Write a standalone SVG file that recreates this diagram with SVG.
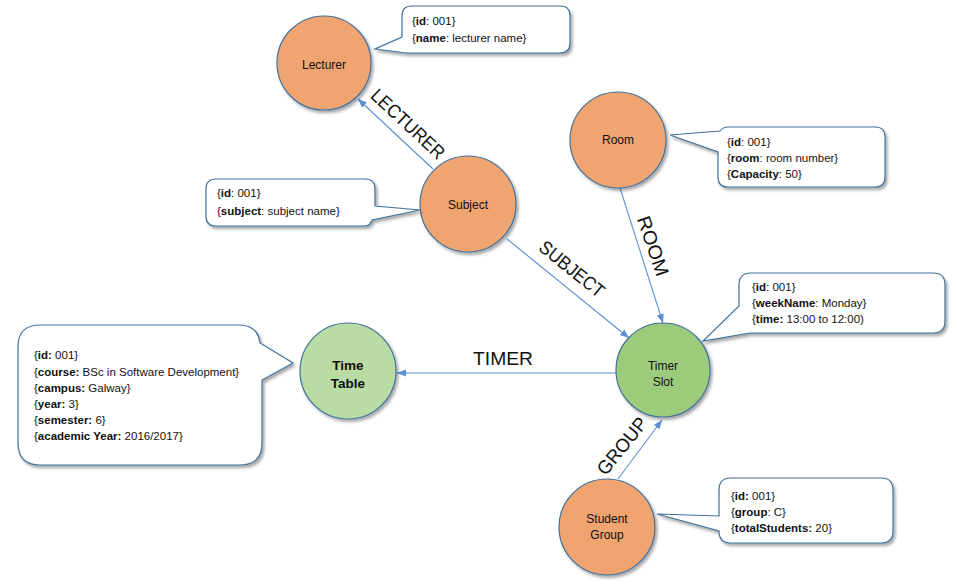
<svg xmlns="http://www.w3.org/2000/svg" width="957" height="584" viewBox="0 0 957 584">
<style>
.bg{fill:#ffffff}
.node{stroke:#41719C;stroke-width:1.2;filter:url(#sh)}
.or{fill:#F0A470}
.gr{fill:#9DCB7C}
.lg{fill:#B8DCA3}
.call{fill:#ffffff;stroke:#41719C;stroke-width:1.2;filter:url(#sh)}
.lbl{font-family:"Liberation Sans",Arial,sans-serif;font-size:12px;fill:#111;text-anchor:middle}
.lblb{font-family:"Liberation Sans",Arial,sans-serif;font-size:13.5px;font-weight:bold;fill:#111;text-anchor:middle}
.ct{font-family:"Liberation Sans",Arial,sans-serif;font-size:11.5px;fill:#111}
.b{font-weight:bold}
.edge{stroke:#5B8FD4;stroke-width:1.1;fill:none;marker-end:url(#arr)}
.el{font-family:"Liberation Sans",Arial,sans-serif;font-size:19px;fill:#111;text-anchor:middle;dominant-baseline:central}
</style>
<defs>
<filter id="sh" x="-20%" y="-20%" width="140%" height="140%">
<feDropShadow dx="2" dy="2.5" stdDeviation="1.5" flood-color="#000" flood-opacity="0.35"/>
</filter>
<marker id="arr" markerWidth="10" markerHeight="10" refX="9" refY="5" orient="auto" markerUnits="userSpaceOnUse">
<path d="M0,1.5 L9,5 L0,8.5 Z" fill="#5B8FD4"/>
</marker>
</defs>
<rect class="bg" x="0" y="0" width="957" height="584"/>

<g id="connectors">
<line class="edge" x1="433" y1="169" x2="358" y2="99"/>
<line class="edge" x1="507" y1="239" x2="629" y2="338"/>
<line class="edge" x1="620" y1="188" x2="663" y2="323"/>
<line class="edge" x1="617" y1="373" x2="397" y2="373"/>
<line class="edge" x1="618" y1="479" x2="662" y2="420"/>
<text class="el" transform="translate(408,124) rotate(43)" textLength="93" lengthAdjust="spacingAndGlyphs">LECTURER</text>
<text class="el" transform="translate(572,269) rotate(39)" textLength="78" lengthAdjust="spacingAndGlyphs">SUBJECT</text>
<text class="el" transform="translate(653,246) rotate(71)" textLength="62" lengthAdjust="spacingAndGlyphs">ROOM</text>
<text class="el" transform="translate(503,358)" textLength="60" lengthAdjust="spacingAndGlyphs">TIMER</text>
<text class="el" transform="translate(622,446) rotate(-51)" textLength="68" lengthAdjust="spacingAndGlyphs">GROUP</text>
</g>

<g id="lecturer">
<circle class="node or" cx="324" cy="63" r="47"/>
<text class="lbl" x="324" y="69">Lecturer</text>
<path class="call" d="M412,6 H560 Q570,6 570,16 V43 Q570,53 560,53 H406 L375,49 L402,37 V16 Q402,6 412,6 Z"/>
<text class="ct" x="412" y="25">{<tspan class="b">id</tspan>: 001}</text>
<text class="ct" x="412" y="42">{<tspan class="b">name</tspan>: lecturer name}</text>
</g>

<g id="subject">
<circle class="node or" cx="468" cy="204" r="48"/>
<text class="lbl" x="468" y="209">Subject</text>
<path class="call" d="M216,179 H365 Q375,179 375,189 V206 L420,210 L372,220 Q370,226 365,226 H216 Q206,226 206,216 V189 Q206,179 216,179 Z"/>
<text class="ct" x="217" y="197">{<tspan class="b">id</tspan>: 001}</text>
<text class="ct" x="217" y="215">{<tspan class="b">subject</tspan>: subject name}</text>
</g>

<g id="room">
<circle class="node or" cx="618" cy="140" r="48"/>
<text class="lbl" x="618" y="144">Room</text>
<path class="call" d="M728,127 H875 Q885,127 885,137 V177 Q885,187 875,187 H728 Q718,187 718,177 V152 L670,135 L720,131 Q723,127 728,127 Z"/>
<text class="ct" x="727" y="146">{<tspan class="b">id</tspan>: 001}</text>
<text class="ct" x="727" y="162">{<tspan class="b">room</tspan>: room number}</text>
<text class="ct" x="727" y="178">{<tspan class="b">Capacity</tspan>: 50}</text>
</g>

<g id="timerslot">
<circle class="node gr" cx="663" cy="370" r="47"/>
<text class="lbl" x="663" y="370">Timer</text>
<text class="lbl" x="663" y="386">Slot</text>
<path class="call" d="M751,273 H933 Q945,273 945,285 V321 Q945,333 933,333 H750 L703,341 L739,306 V285 Q739,273 751,273 Z"/>
<text class="ct" x="752" y="291">{<tspan class="b">id</tspan>: 001}</text>
<text class="ct" x="752" y="307">{<tspan class="b">weekName</tspan>: Monday}</text>
<text class="ct" x="752" y="323">{<tspan class="b">time:</tspan> 13:00 to 12:00)</text>
</g>

<g id="timetable">
<circle class="node lg" cx="348" cy="371" r="48"/>
<text class="lblb" x="348" y="370">Time</text>
<text class="lblb" x="348" y="388">Table</text>
<path class="call" d="M40,325 H238 Q258,325 260,343 L293,363 L262,380 V443 Q262,465 240,465 H40 Q18,465 18,443 V347 Q18,325 40,325 Z"/>
<text class="ct" x="34" y="359">{<tspan class="b">id:</tspan> 001}</text>
<text class="ct" x="34" y="376">{<tspan class="b">course:</tspan> BSc in Software Development}</text>
<text class="ct" x="34" y="392">{<tspan class="b">campus:</tspan> Galway}</text>
<text class="ct" x="34" y="408">{<tspan class="b">year:</tspan> 3}</text>
<text class="ct" x="34" y="424">{<tspan class="b">semester:</tspan> 6}</text>
<text class="ct" x="34" y="440">{<tspan class="b">academic Year:</tspan> 2016/2017}</text>
</g>

<g id="studentgroup">
<circle class="node or" cx="607" cy="527" r="48"/>
<text class="lbl" x="607" y="523">Student</text>
<text class="lbl" x="607" y="539">Group</text>
<path class="call" d="M731,478 H881 Q893,478 893,490 V531 Q893,543 881,543 H731 Q719,543 719,531 L657,514 L719,516 V490 Q719,478 731,478 Z"/>
<text class="ct" x="731" y="500">{<tspan class="b">id:</tspan> 001}</text>
<text class="ct" x="731" y="516">{<tspan class="b">group</tspan>: C}</text>
<text class="ct" x="731" y="532">{<tspan class="b">totalStudents:</tspan> 20}</text>
</g>
</svg>
